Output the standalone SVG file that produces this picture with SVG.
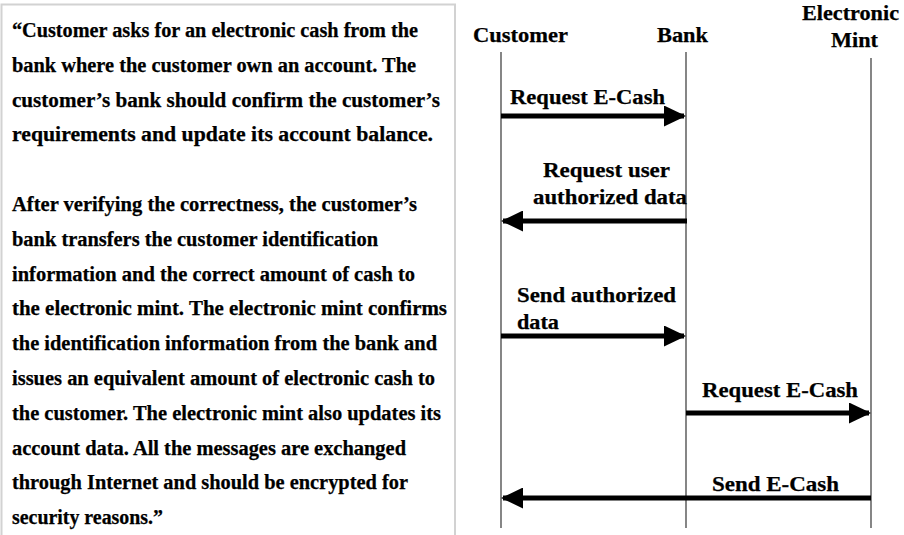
<svg xmlns="http://www.w3.org/2000/svg" width="904" height="535" viewBox="0 0 904 535">
<style>
  text { font-family: "Liberation Serif", "Times New Roman", serif; font-weight: bold; fill: #000; stroke: #000; stroke-width: 0.25; }
  .body { font-size: 20.5px; }
  .hdr { font-size: 21px; }
  .lbl { font-size: 21px; }
  .life { stroke: #444; stroke-width: 1.3; fill: none; }
  .msg { stroke: #000; stroke-width: 5; fill: none; marker-end: url(#head); }
  .box { fill: #fff; stroke: #d2d2d2; stroke-width: 2; }
</style>
<defs>
  <marker id="head" viewBox="0 0 22 21" refX="20" refY="10.5" markerWidth="22" markerHeight="21" markerUnits="userSpaceOnUse" orient="auto">
    <path d="M0,0 L22,10.5 L0,21 Z" fill="#000"/>
  </marker>
</defs>
<rect width="904" height="535" fill="#fff"/>

<g id="description">
  <rect class="box" x="1.5" y="4.5" width="453.5" height="545"/>
  <text class="body" x="12" y="37" textLength="406" lengthAdjust="spacingAndGlyphs">“Customer asks for an electronic cash from the</text>
  <text class="body" x="12" y="71.8" textLength="404" lengthAdjust="spacingAndGlyphs">bank where the customer own an account. The</text>
  <text class="body" x="12" y="106.6" textLength="428" lengthAdjust="spacingAndGlyphs">customer’s bank should confirm the customer’s</text>
  <text class="body" x="12" y="141.4" textLength="421" lengthAdjust="spacingAndGlyphs">requirements and update its account balance.</text>
  <text class="body" x="12" y="211" textLength="405" lengthAdjust="spacingAndGlyphs">After verifying the correctness, the customer’s</text>
  <text class="body" x="12" y="245.8" textLength="366" lengthAdjust="spacingAndGlyphs">bank transfers the customer identification</text>
  <text class="body" x="12" y="280.6" textLength="403" lengthAdjust="spacingAndGlyphs">information and the correct amount of cash to</text>
  <text class="body" x="12" y="315.4" textLength="435" lengthAdjust="spacingAndGlyphs">the electronic mint. The electronic mint confirms</text>
  <text class="body" x="12" y="350.2" textLength="425" lengthAdjust="spacingAndGlyphs">the identification information from the bank and</text>
  <text class="body" x="12" y="385" textLength="423" lengthAdjust="spacingAndGlyphs">issues an equivalent amount of electronic cash to</text>
  <text class="body" x="12" y="419.8" textLength="429" lengthAdjust="spacingAndGlyphs">the customer. The electronic mint also updates its</text>
  <text class="body" x="12" y="454.6" textLength="394" lengthAdjust="spacingAndGlyphs">account data. All the messages are exchanged</text>
  <text class="body" x="12" y="489.4" textLength="396" lengthAdjust="spacingAndGlyphs">through Internet and should be encrypted for</text>
  <text class="body" x="12" y="524.2" textLength="151" lengthAdjust="spacingAndGlyphs">security reasons.”</text>
</g>

<g id="customer">
  <text class="hdr" x="473" y="42" textLength="95" lengthAdjust="spacingAndGlyphs">Customer</text>
  <line class="life" x1="501" y1="52" x2="501" y2="528"/>
</g>
<g id="bank">
  <text class="hdr" x="657" y="42" textLength="51" lengthAdjust="spacingAndGlyphs">Bank</text>
  <line class="life" x1="686" y1="52" x2="686" y2="528"/>
</g>
<g id="mint">
  <text class="hdr" x="802" y="20" textLength="97" lengthAdjust="spacingAndGlyphs">Electronic</text>
  <text class="hdr" x="831" y="47" textLength="47" lengthAdjust="spacingAndGlyphs">Mint</text>
  <line class="life" x1="871" y1="58" x2="871" y2="528"/>
</g>

<g id="connectors">
  <line class="msg" x1="501" y1="116" x2="684" y2="116"/>
  <text class="lbl" x="510" y="104" textLength="155" lengthAdjust="spacingAndGlyphs">Request E-Cash</text>

  <line class="msg" x1="687" y1="221" x2="503" y2="221"/>
  <text class="lbl" x="543" y="177" textLength="127" lengthAdjust="spacingAndGlyphs">Request user</text>
  <text class="lbl" x="533" y="204" textLength="154" lengthAdjust="spacingAndGlyphs">authorized data</text>

  <line class="msg" x1="501" y1="336" x2="684" y2="336"/>
  <text class="lbl" x="517" y="302" textLength="159" lengthAdjust="spacingAndGlyphs">Send authorized</text>
  <text class="lbl" x="517" y="329" textLength="42" lengthAdjust="spacingAndGlyphs">data</text>

  <line class="msg" x1="686" y1="413" x2="869" y2="413"/>
  <text class="lbl" x="702" y="397" textLength="156" lengthAdjust="spacingAndGlyphs">Request E-Cash</text>

  <line class="msg" x1="871" y1="498" x2="503" y2="498"/>
  <text class="lbl" x="712" y="491" textLength="127" lengthAdjust="spacingAndGlyphs">Send E-Cash</text>
</g>
</svg>
